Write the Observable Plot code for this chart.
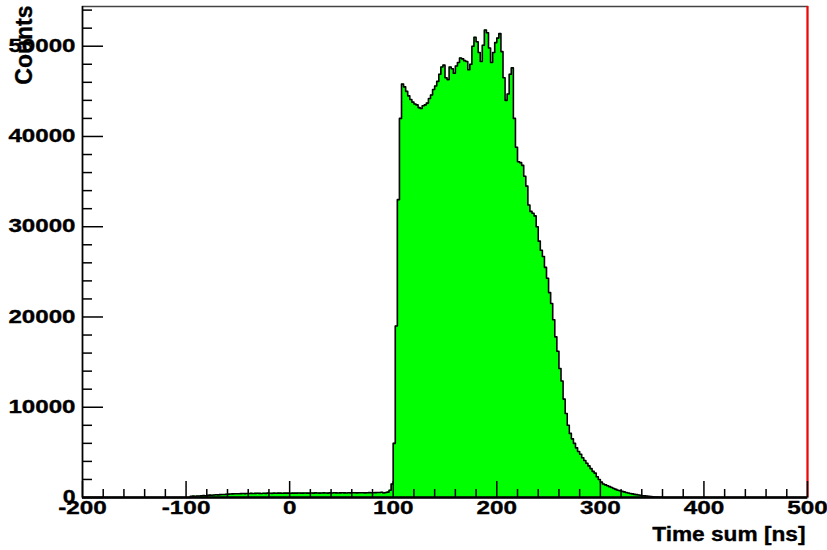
<!DOCTYPE html>
<html><head><meta charset="utf-8">
<script src="https://cdn.jsdelivr.net/npm/d3@7"></script>
<script src="https://cdn.jsdelivr.net/npm/@observablehq/plot@0.6"></script>
<style>body{margin:0;background:#fff;}#chart{width:827px;height:550px;}</style>
</head><body><div id="chart"></div>
<script>
// Histogram: bins of 2 ns starting at -98 ns
const binStart = -98;
const binWidth = 2;
const counts = [
  // -98 .. -52
  0, 120, 150, 140, 170, 160, 190, 210, 200, 240, 260, 250, 280, 300, 290, 320, 340, 330, 350, 370, 380, 400, 410, 420,
  // -50 .. -4
  410, 430, 440, 430, 450, 440, 460, 450, 460, 470, 460, 450, 470, 460, 480, 470, 460, 480, 470, 490, 480, 470, 480, 490,
  // -2 .. 44
  480, 470, 490, 480, 490, 500, 480, 490, 500, 490, 480, 500, 490, 510, 500, 490, 500, 510, 500, 490, 510, 500, 520, 510,
  // 46 .. 88
  500, 510, 520, 510, 500, 520, 510, 530, 520, 510, 520, 530, 520, 510, 530, 540, 520, 530, 540, 550, 560, 580,
  // 90 .. 136
  500, 550, 600, 800, 1500, 6000, 19000, 33000, 42000, 45800, 45500, 45000, 44500, 44100, 43800, 43600, 43500, 43200, 43100, 43400, 43500, 43700, 44200, 44600,
  // 138 .. 184
  45200, 45600, 46100, 46900, 47700, 47900, 46500, 46300, 47700, 47500, 47000, 47800, 48200, 48700, 48600, 48400, 48300, 47400, 48000, 50000, 51000, 50500, 49300, 48300,
  // 186 .. 232
  50100, 51800, 51500, 49800, 48200, 49300, 50400, 50900, 51400, 49400, 46500, 44000, 44700, 46900, 47600, 42000, 38800, 37200, 37100, 36800, 35600, 34500, 32400, 31700,
  // 234 .. 280
  31500, 31200, 30000, 28400, 27400, 26700, 25500, 24300, 22700, 21500, 19700, 17800, 16200, 14300, 12900, 10900, 9300, 8000, 7100, 6500, 6000, 5500, 5100, 4800,
  // 282 .. 328
  4400, 4100, 3800, 3500, 3200, 2900, 2700, 2300, 2000, 1700, 1500, 1400, 1300, 1200, 1100, 1000, 900, 800, 750, 700, 620, 550, 500, 440,
  // 330 .. 358
  400, 350, 320, 280, 240, 200, 180, 150, 120, 100, 80, 60, 40, 30, 20
];

const xDomain = [-200, 500];
const yDomain = [0, 54400];
const xMajor = [-200, -100, 0, 100, 200, 300, 400, 500];
const yMajor = [0, 10000, 20000, 30000, 40000, 50000];
const xMinor = d3.range(-200, 501, 20).filter(v => v % 100 !== 0);
const yMinor = d3.range(0, 54401, 2000).filter(v => v % 10000 !== 0);
const xTitle = "Time sum [ns]";
const yTitle = "Counts";
const boundaryLine = [500];

// outline / fill points (step-after)
const pts = [{x: -200, y: 0}];
counts.forEach((c, i) => pts.push({x: binStart + i * binWidth, y: c}));
pts.push({x: binStart + counts.length * binWidth, y: 0});
pts.push({x: 500, y: 0});

const W = 827, H = 550, mL = 82, mR = 20, mT = 6, mB = 53;
const fw = W - mL - mR, fh = H - mT - mB;
const font = "'Liberation Sans', Arial, Helvetica, sans-serif";

const chart = Plot.plot({
  width: W, height: H,
  marginLeft: mL, marginRight: mR, marginTop: mT, marginBottom: mB,
  style: {fontFamily: font, background: "#fff", overflow: "visible"},
  x: {domain: xDomain, axis: null},
  y: {domain: yDomain, axis: null},
  marks: [
    Plot.areaY(pts, {x: "x", y: "y", curve: "step-after", fill: "#00ff00"}),
    Plot.lineY(pts, {x: "x", y: "y", curve: "step-after", stroke: "#000", strokeWidth: 1.6}),
    Plot.frame({stroke: "#444", strokeWidth: 1.5}),
    Plot.ruleX(boundaryLine, {x: d => d, stroke: "#ff0000", strokeWidth: 2}),
    Plot.ruleY([0], {stroke: "#000", strokeWidth: 2.5}),
    Plot.ruleX([-200], {stroke: "#000", strokeWidth: 1.5}),
    Plot.tickX(xMajor, {x: d => d, insetTop: fh - 16, stroke: "#000", strokeWidth: 1.5}),
    Plot.tickX(xMinor, {x: d => d, insetTop: fh - 8, stroke: "#000", strokeWidth: 1.5}),
    Plot.tickY(yMajor, {y: d => d, insetRight: fw - 21, stroke: "#000", strokeWidth: 1.5}),
    Plot.tickY(yMinor, {y: d => d, insetRight: fw - 10, stroke: "#000", strokeWidth: 1.5}),
    Plot.text(xMajor, {x: d => d, frameAnchor: "bottom", lineAnchor: "top", dy: 3, text: d => String(d),
      fontSize: 19, fontWeight: "bold", fill: "#000", stroke: "#000", strokeWidth: 0.35}),
    Plot.text(yMajor, {y: d => d, frameAnchor: "left", textAnchor: "end", lineAnchor: "middle", dx: -7, text: d => String(d),
      fontSize: 18, fontWeight: "bold", fill: "#000", stroke: "#000", strokeWidth: 0.35}),
    Plot.text([xTitle], {frameAnchor: "bottom-right", textAnchor: "end", lineAnchor: "middle", dx: -2, dy: 37,
      text: d => d, fontSize: 21, fontWeight: "bold", fill: "#000", stroke: "#000", strokeWidth: 0.35}),
    Plot.text([yTitle], {frameAnchor: "top-left", textAnchor: "end", lineAnchor: "middle", rotate: -90, dx: -58, dy: -1,
      text: d => d, fontSize: 23, fontWeight: "bold", fill: "#000", stroke: "#000", strokeWidth: 0.35})
  ]
});
document.getElementById("chart").appendChild(chart);

// widen labels (the reference's bold glyphs are horizontally stretched)
chart.querySelectorAll("text").forEach(t => {
  const s = t.textContent;
  let k = null;
  if (/^-?\d+$/.test(s)) k = s.length === 5 ? 1.34 : 1.28;
  else if (s === xTitle) k = 1.08;
  if (k) {
    const len = t.getComputedTextLength();
    t.setAttribute("textLength", (len * k).toFixed(1));
    t.setAttribute("lengthAdjust", "spacingAndGlyphs");
  }
});
</script>
</body></html>
